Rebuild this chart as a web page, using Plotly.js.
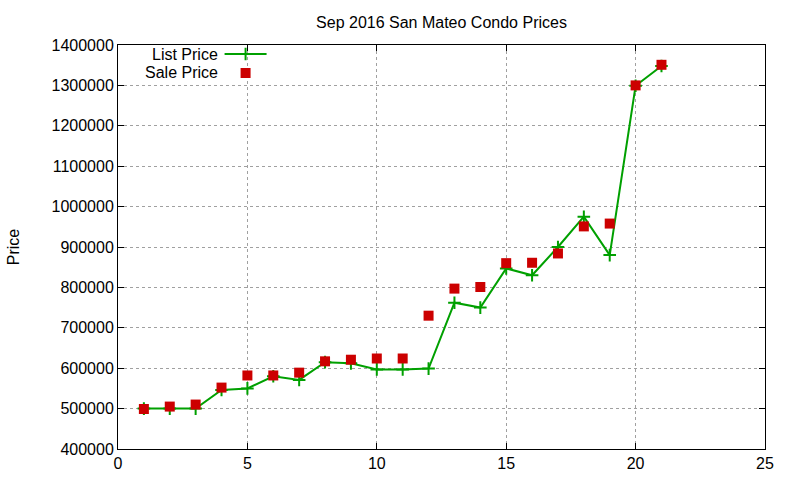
<!DOCTYPE html>
<html>
<head>
<meta charset="utf-8">
<script src="https://cdn.plot.ly/plotly-3.0.1.min.js"></script>
<style>
  html, body { margin: 0; padding: 0; background: #fff; }
  #condoPlot { width: 800px; height: 480px; }
</style>
</head>
<body>
<div id="condoPlot"></div>
<script>
// data
var listIndex = [1, 2, 3, 4, 5, 6, 7, 8, 9, 10, 11, 12, 13, 14, 15, 16, 17, 18, 19, 20, 21];
var listPrice = [
  500000, 500000, 500000, 546000, 550000, 580000, 571000, 615000, 612000, 597000,
  597000, 599000, 762000, 750000, 847000, 830000, 900000, 975000, 880000, 1299000,
  1348000,
];
var saleIndex = [1, 2, 3, 4, 5, 6, 7, 8, 9, 10, 11, 12, 13, 14, 15, 16, 17, 18, 19, 20, 21];
var salePrice = [
  499000, 505000, 510000, 552000, 582000, 582000, 589000, 617000, 621000, 624000,
  624000, 730000, 797000, 801000, 860000, 861000, 884000, 951000, 958000, 1300000,
  1351000,
];
var xTicks = [0, 5, 10, 15, 20, 25];
var yTicks = [400000, 500000, 600000, 700000, 800000, 900000, 1000000, 1100000, 1200000, 1300000, 1400000];

var green = "#00a000";
var red = "#cc0000";
var font = "Liberation Sans, Arial, sans-serif";

var cb_condoPlot = function () {
  let trace1 = {
    x: listIndex,
    y: listPrice,
    name: " ",
    mode: "lines+markers",
    type: "scatter",
    line: { color: green, width: 2 },
    marker: { symbol: "cross-thin", size: 9, line: { color: green, width: 2 }, color: green },
    legend: "legend",
  };

  let trace2 = {
    x: saleIndex,
    y: salePrice,
    name: " ",
    mode: "markers",
    type: "scatter",
    marker: { symbol: "square", size: 10, color: red },
    legend: "legend2",
  };

  let data = [trace1, trace2];

  let axisCommon = {
    showline: true,
    linecolor: "#000",
    linewidth: 1,
    mirror: "ticks",
    ticks: "inside",
    ticklen: 6,
    tickcolor: "#000",
    showgrid: true,
    gridcolor: "#a0a0a0",
    griddash: "dot",
    gridwidth: 1,
    zeroline: false,
    tickfont: { family: font, size: 16, color: "#000" },
  };

  // key rows (paper y) - gnuplot style key: label right-aligned, sample on the right
  let keyY1 = 0.9777;
  let keyY2 = 0.9307;

  let layout = {
    width: 800,
    height: 480,
    margin: { l: 118, r: 35, t: 45, b: 31, pad: 0 },
    paper_bgcolor: "#fff",
    plot_bgcolor: "#fff",
    font: { family: font, size: 16, color: "#000" },
    title: {
      text: "Sep 2016 San Mateo Condo Prices",
      font: { family: font, size: 16, color: "#000" },
      xref: "paper",
      x: 0.5,
      xanchor: "center",
      y: 1 - 22 / 480,
      yanchor: "middle",
    },
    xaxis: Object.assign({}, axisCommon, {
      range: [0, 25],
      tickvals: xTicks,
      ticktext: xTicks.map(String),
    }),
    yaxis: Object.assign({}, axisCommon, {
      range: [400000, 1400000],
      tickvals: yTicks,
      ticktext: yTicks.map(String),
      title: { text: "Price", font: { family: font, size: 16, color: "#000" }, standoff: 27 },
    }),
    showlegend: true,
    legend: {
      x: 0.157, xanchor: "left", y: keyY1, yanchor: "middle",
      bgcolor: "rgba(0,0,0,0)", font: { size: 10 }, itemwidth: 42,
    },
    legend2: {
      x: 0.157, xanchor: "left", y: keyY2, yanchor: "middle",
      bgcolor: "rgba(0,0,0,0)", font: { size: 10 }, itemwidth: 42,
    },
    annotations: [
      {
        text: "List Price", xref: "paper", yref: "paper", x: 0.157, y: keyY1,
        xanchor: "right", yanchor: "middle", showarrow: false,
        font: { family: font, size: 16, color: "#000" },
      },
      {
        text: "Sale Price", xref: "paper", yref: "paper", x: 0.157, y: keyY2,
        xanchor: "right", yanchor: "middle", showarrow: false,
        font: { family: font, size: 16, color: "#000" },
      },
    ],
  };

  let config = { staticPlot: true, displaylogo: false };

  Plotly.newPlot("condoPlot", data, layout, config);
};

cb_condoPlot();
</script>
</body>
</html>
